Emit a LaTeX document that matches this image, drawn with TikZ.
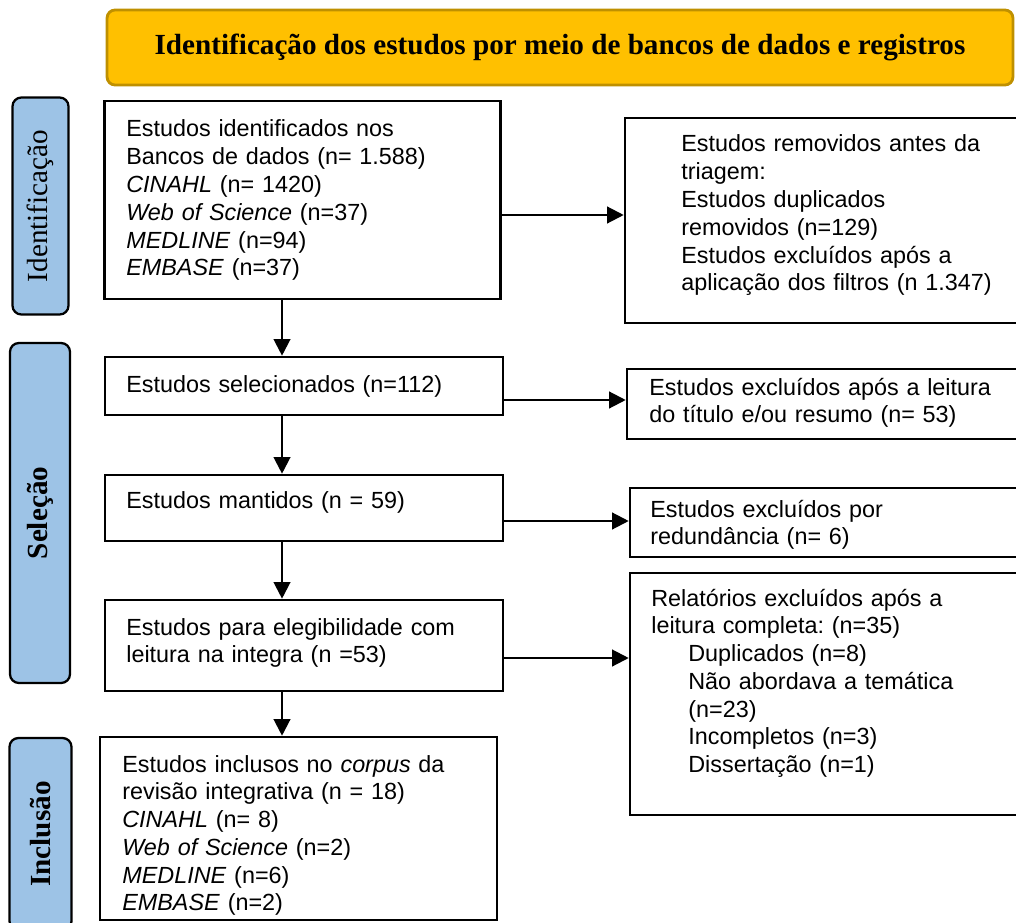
\documentclass[tikz,border=0pt]{standalone}
\usepackage{fontspec}
\setmainfont{Liberation Sans}
\newfontfamily\timesfont{Liberation Serif}
\usetikzlibrary{arrows.meta}
\frenchspacing

\definecolor{titlefill}{HTML}{FFC000}
\definecolor{titledraw}{HTML}{BF9000}
\definecolor{sidefill}{HTML}{9DC3E6}

\tikzset{
  box/.style={rectangle, draw, line width=1.5pt},
  titlebox/.style={rectangle, rounded corners=4.5pt, draw=titledraw, line width=1.6pt, fill=titlefill,
    font=\timesfont\bfseries\fontsize{16.6}{20}\selectfont},
  sidebar/.style={rectangle, rotate=90, rounded corners=5pt, draw, line width=1.3pt, fill=sidefill,
    font=\timesfont\fontsize{16.6}{20}\selectfont},
  txt/.style={anchor=base west, inner sep=0pt, text width=8cm, align=left,
    font=\fontsize{13.3}{15.8}\selectfont},
  arr/.style={line width=1.25pt, -{Triangle[length=9.5pt,width=9.5pt]}},
}

\begin{document}
\begin{tikzpicture}[x=0.02cm, y=-0.02cm]
    \useasboundingbox (0,0) rectangle (1016,922);
    \clip (0,0) rectangle (1016,922);

    % title and phases
    \node[titlebox, minimum width=18.12cm, minimum height=1.5cm] (title) at (560,47.5)
      {Identificação dos estudos por meio de bancos de dados e registros};
    \node[sidebar, minimum width=4.34cm, minimum height=1.12cm] (sI) at (40.5,206) {Identificação};
    \node[sidebar, minimum width=6.8cm, minimum height=1.2cm] (sS) at (40,513) {\bfseries Seleção};
    \node[sidebar, minimum width=3.84cm, minimum height=1.24cm] (sInc) at (40.5,834) {\bfseries Inclusão};

    % boxes
    \node[box, minimum width=7.93cm, minimum height=3.96cm] (b1) at (302.5,200) {};
    \node[box, minimum width=8.1cm, minimum height=4.1cm] (r1) at (827.5,220.5) {};
    \node[box, minimum width=7.96cm, minimum height=1.16cm] (b2) at (304,386) {};
    \node[box, minimum width=8.06cm, minimum height=1.4cm] (r2) at (828.5,404) {};
    \node[box, minimum width=7.96cm, minimum height=1.32cm] (b3) at (304,508) {};
    \node[box, minimum width=8cm, minimum height=1.38cm] (r3) at (830,522.5) {};
    \node[box, minimum width=7.96cm, minimum height=1.82cm] (b4) at (304,645.5) {};
    \node[box, minimum width=8cm, minimum height=4.84cm] (r4) at (830,694) {};
    \node[box, minimum width=7.94cm, minimum height=3.66cm] (b5) at (298.5,828.5) {};

    % arrows
    \draw[arr] ([xshift=-0.41cm]b1.south) -- ([xshift=-0.41cm]b1.south |- b2.north);
    \draw[arr] ([xshift=-0.44cm]b2.south) -- ([xshift=-0.44cm]b2.south |- b3.north);
    \draw[arr] ([xshift=-0.44cm]b3.south) -- ([xshift=-0.44cm]b3.south |- b4.north);
    \draw[arr] ([xshift=-0.44cm]b4.south) -- ([xshift=-0.44cm]b4.south |- b5.north);
    \draw[arr] ([yshift=-0.3cm]b1.east) -- ([yshift=-0.3cm]b1.east -| r1.west);
    \draw[arr] ([yshift=-0.28cm]b2.east) -- ([yshift=-0.28cm]b2.east -| r2.west);
    \draw[arr] ([yshift=-0.26cm]b3.east) -- ([yshift=-0.26cm]b3.east -| r3.west);
    \draw[arr] ([yshift=-0.25cm]b4.east) -- ([yshift=-0.25cm]b4.east -| r4.west);

    % texts
    \node[txt] (t1) at (126,137) {Estudos identificados nos\\Bancos de dados (n= 1.588)\\\textit{CINAHL} (n= 1420)\\\textit{Web of Science} (n=37)\\\textit{MEDLINE} (n=94)\\\textit{EMBASE} (n=37)};
    \node[txt] (t2) at (681,152) {Estudos removidos antes da\\triagem:\\Estudos duplicados\\removidos (n=129)\\Estudos excluídos após a\\aplicação dos filtros (n 1.347)};
    \node[txt] (t3) at (126,392) {Estudos selecionados (n=112)};
    \node[txt] (t4) at (649,395) {Estudos excluídos após a leitura\\do título e/ou resumo (n= 53)};
    \node[txt] (t5) at (126,508) {Estudos mantidos (n = 59)};
    \node[txt] (t6) at (650,517) {Estudos excluídos por\\redundância (n= 6)};
    \node[txt] (t7) at (126,635) {Estudos para elegibilidade com\\leitura na integra (n =53)};
    \node[txt] (t8) at (651,606) {Relatórios excluídos após a\\leitura completa: (n=35)\\\hspace*{0.74cm}Duplicados (n=8)\\\hspace*{0.74cm}Não abordava a temática\\\hspace*{0.74cm}(n=23)\\\hspace*{0.74cm}Incompletos (n=3)\\\hspace*{0.74cm}Dissertação (n=1)};
    \node[txt] (t9) at (122,772) {Estudos inclusos no \textit{corpus} da\\revisão integrativa (n = 18)\\\textit{CINAHL} (n= 8)\\\textit{Web of Science} (n=2)\\\textit{MEDLINE} (n=6)\\\textit{EMBASE} (n=2)};

\end{tikzpicture}
\end{document}
